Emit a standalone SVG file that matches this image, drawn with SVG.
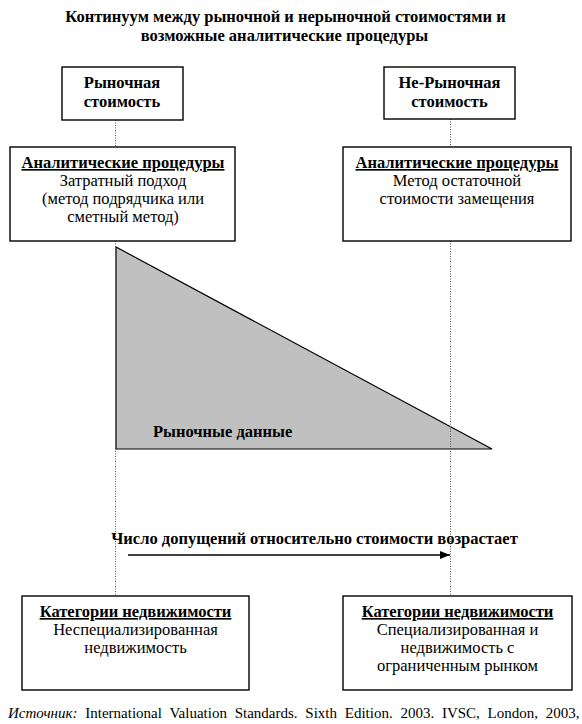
<svg xmlns="http://www.w3.org/2000/svg" width="582" height="724" viewBox="0 0 582 724">
<style>
text{font-family:"Liberation Serif","DejaVu Serif",serif;fill:#000}
.t{font-size:16.5px;font-weight:bold}
.n{font-size:16.5px}
.c{font-size:15px}
.u{text-decoration:underline}
.box{fill:#fff;stroke:#000;stroke-width:1.4}
.dot{stroke:#555;stroke-width:1;stroke-dasharray:1,1.5;fill:none}
</style>
<defs>
<marker id="ah" markerWidth="10" markerHeight="8" refX="10" refY="4" orient="auto" markerUnits="userSpaceOnUse">
<path d="M0,0 L10,4 L0,8 Z" fill="#000"/>
</marker>
</defs>
<rect width="582" height="724" fill="#fff"/>
<g id="title">
<text class="t" x="285.5" y="22" text-anchor="middle">Континуум между рыночной и нерыночной стоимостями и</text>
<text class="t" x="284.5" y="41" text-anchor="middle">возможные аналитические процедуры</text>
</g>
<g id="triangle">
<polygon points="116,247 116,449 492,449" fill="#c0c0c0" stroke="#000" stroke-width="1.2"/>
<text class="t" x="153" y="437">Рыночные данные</text>
</g>
<g id="connectors">
<line class="dot" x1="115.5" y1="120" x2="115.5" y2="147"/>
<line class="dot" x1="115.5" y1="241" x2="115.5" y2="596"/>
<line class="dot" x1="450.5" y1="119" x2="450.5" y2="147"/>
<line class="dot" x1="450.5" y1="241" x2="450.5" y2="596"/>
<line x1="128" y1="555" x2="450" y2="555" stroke="#000" stroke-width="1.3" marker-end="url(#ah)"/>
</g>
<g id="arrow-label">
<text class="t" x="314.5" y="544" text-anchor="middle">Число допущений относительно стоимости возрастает</text>
</g>
<g id="market-value">
<rect class="box" x="62" y="67" width="121" height="53"/>
<text class="t" x="122" y="88" text-anchor="middle">Рыночная</text>
<text class="t" x="122" y="107" text-anchor="middle">стоимость</text>
</g>
<g id="non-market-value">
<rect class="box" x="384" y="67" width="131" height="52"/>
<text class="t" x="449.5" y="88" text-anchor="middle">Не-Рыночная</text>
<text class="t" x="449.5" y="107" text-anchor="middle">стоимость</text>
</g>
<g id="procedures-left">
<rect class="box" x="10" y="147" width="225" height="94"/>
<text class="t u" x="123" y="168" text-anchor="middle">Аналитические процедуры</text>
<text class="n" x="123" y="186" text-anchor="middle">Затратный подход</text>
<text class="n" x="123" y="204" text-anchor="middle">(метод подрядчика или</text>
<text class="n" x="123" y="222" text-anchor="middle">сметный метод)</text>
</g>
<g id="procedures-right">
<rect class="box" x="343" y="147" width="228" height="94"/>
<text class="t u" x="457" y="168" text-anchor="middle">Аналитические процедуры</text>
<text class="n" x="457" y="186" text-anchor="middle">Метод остаточной</text>
<text class="n" x="457" y="204" text-anchor="middle">стоимости замещения</text>
</g>
<g id="category-left">
<rect class="box" x="22" y="596" width="227" height="94"/>
<text class="t u" x="135.5" y="617" text-anchor="middle">Категории недвижимости</text>
<text class="n" x="135.5" y="635" text-anchor="middle">Неспециализированная</text>
<text class="n" x="135.5" y="653" text-anchor="middle">недвижимость</text>
</g>
<g id="category-right">
<rect class="box" x="343" y="596" width="229" height="94"/>
<text class="t u" x="457.5" y="617" text-anchor="middle">Категории недвижимости</text>
<text class="n" x="457.5" y="635" text-anchor="middle">Специализированная и</text>
<text class="n" x="457.5" y="653" text-anchor="middle">недвижимость с</text>
<text class="n" x="457.5" y="671" text-anchor="middle">ограниченным рынком</text>
</g>
<g id="source">
<text class="c" x="8" y="718" word-spacing="4"><tspan font-style="italic">Источник:</tspan> International Valuation Standards. Sixth Edition. 2003. IVSC, London, 2003,</text>
</g>
</svg>
